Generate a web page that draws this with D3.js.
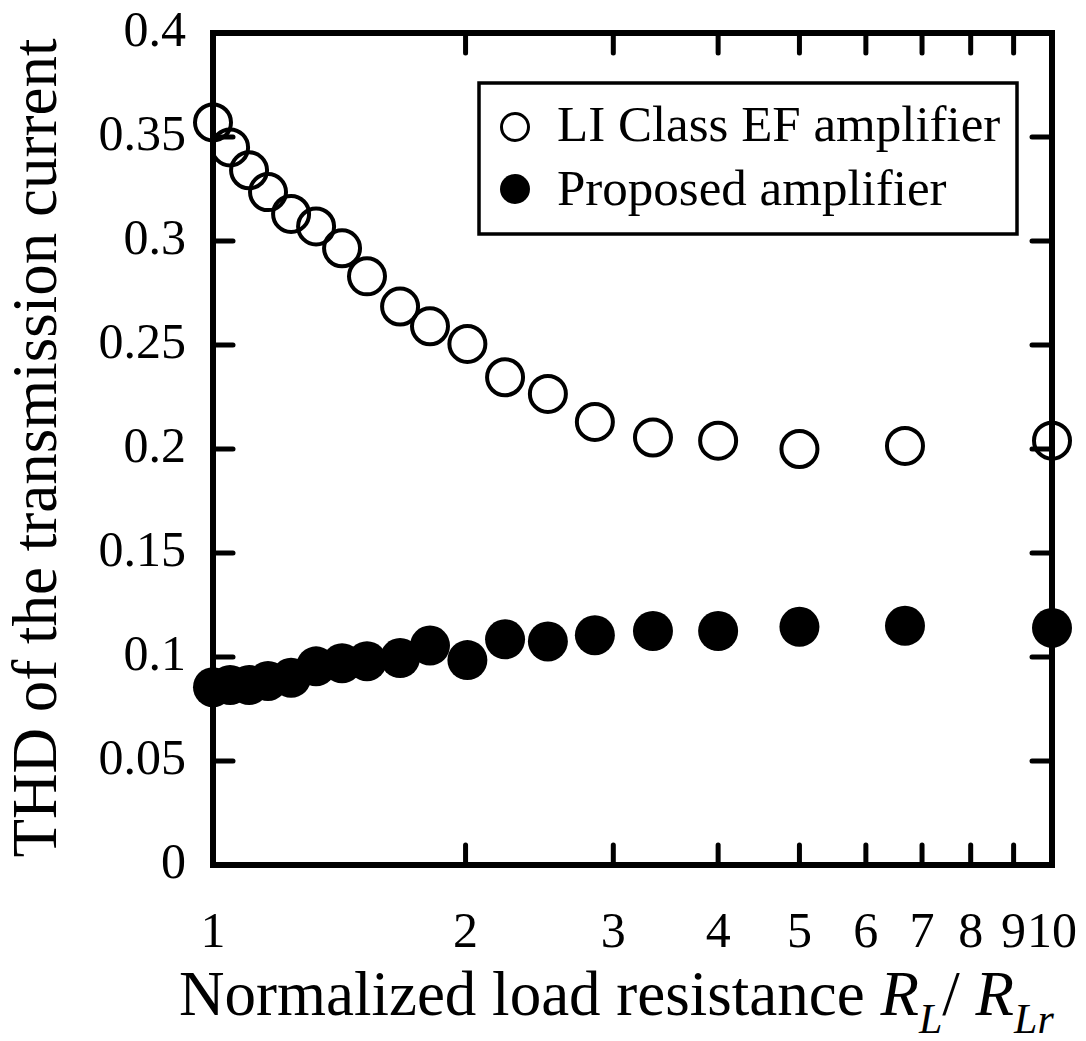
<!DOCTYPE html>
<html>
<head>
<meta charset="utf-8">
<script src="https://cdn.jsdelivr.net/npm/d3@7"></script>
<style>
  html, body { margin: 0; padding: 0; background: #fff; }
  svg { display: block; }
</style>
</head>
<body>
<svg id="chart" width="1086" height="1041"></svg>
<script>
// ---- data ----
const loadRatio = [1.0, 1.048, 1.104, 1.163, 1.239, 1.327, 1.425, 1.526, 1.671, 1.814, 2.01, 2.229, 2.507, 2.852, 3.345, 4.0, 5.0, 6.68, 10.0];
const thdLIClassEF = [0.357, 0.345, 0.334, 0.3235, 0.313, 0.307, 0.2965, 0.283, 0.2685, 0.259, 0.2505, 0.2345, 0.2265, 0.213, 0.2055, 0.204, 0.2, 0.2015, 0.204];
const thdProposed = [0.0855, 0.0865, 0.0865, 0.0885, 0.09, 0.0955, 0.097, 0.098, 0.0995, 0.1055, 0.0985, 0.1085, 0.1075, 0.1105, 0.1125, 0.1125, 0.1145, 0.115, 0.114];
const seriesNames = ["LI Class EF amplifier", "Proposed amplifier"];
const xTickValues = [1, 2, 3, 4, 5, 6, 7, 8, 9, 10];
const xTickLabels = ["1", "2", "3", "4", "5", "6", "7", "8", "9", "10"];
const yTickValues = [0, 0.05, 0.1, 0.15, 0.2, 0.25, 0.3, 0.35, 0.4];
const yTickLabels = ["0", "0.05", "0.1", "0.15", "0.2", "0.25", "0.3", "0.35", "0.4"];

// ---- layout ----
const FONT = "'Liberation Serif', 'Times New Roman', 'DejaVu Serif', serif";
const svg = d3.select("#chart").attr("font-family", FONT);
const L = 213, R = 1052, T = 33, B = 865;
const x = d3.scaleLog().domain([1, 10]).range([L, R]);
const y = d3.scaleLinear().domain([0, 0.4]).range([B, T]);
const tickLen = 20;

// ticks (inward) on all four sides
const gT = svg.append("g");
xTickValues.forEach(v => {
  gT.append("line").attr("x1", x(v)).attr("x2", x(v)).attr("y1", B).attr("y2", B - tickLen);
  gT.append("line").attr("x1", x(v)).attr("x2", x(v)).attr("y1", T).attr("y2", T + tickLen);
});
yTickValues.forEach(v => {
  gT.append("line").attr("x1", L).attr("x2", L + tickLen).attr("y1", y(v)).attr("y2", y(v));
  gT.append("line").attr("x1", R).attr("x2", R - tickLen).attr("y1", y(v)).attr("y2", y(v));
});
gT.selectAll("line").attr("stroke", "#000").attr("stroke-width", 5).attr("stroke-linecap", "round");

// frame
svg.append("rect").attr("x", L).attr("y", T).attr("width", R - L).attr("height", B - T)
  .attr("fill", "none").attr("stroke", "#000").attr("stroke-width", 6);

// tick labels
svg.append("g").selectAll("text").data(xTickValues).join("text")
  .attr("font-family", FONT)
  .attr("x", d => x(d)).attr("y", 947).attr("text-anchor", "middle")
  .attr("font-size", 50).text((d, i) => xTickLabels[i]);
svg.append("g").selectAll("text").data(yTickValues).join("text")
  .attr("font-family", FONT)
  .attr("x", 186).attr("y", d => y(d) + 13).attr("text-anchor", "end")
  .attr("font-size", 50).text((d, i) => yTickLabels[i]);

// axis titles
const xt = svg.append("text").attr("font-family", FONT).attr("x", 179).attr("y", 1015).attr("font-size", 63);
xt.append("tspan").text("Normalized load resistance ");
xt.append("tspan").attr("font-style", "italic").text("R");
xt.append("tspan").attr("font-style", "italic").attr("font-size", 42).attr("dy", 18).text("L");
xt.append("tspan").attr("dy", -18).text("/ ");
xt.append("tspan").attr("font-style", "italic").text("R");
xt.append("tspan").attr("font-style", "italic").attr("font-size", 42).attr("dy", 18).text("Lr");

svg.append("text").attr("font-family", FONT).attr("transform", "translate(56,448) rotate(-90)")
  .attr("text-anchor", "middle").attr("font-size", 63)
  .text("THD of the transmission current");

// data markers
const rr = 18;
svg.append("g").selectAll("circle").data(loadRatio).join("circle")
  .attr("cx", d => x(d)).attr("cy", (d, i) => y(thdLIClassEF[i])).attr("r", rr)
  .attr("fill", "none").attr("stroke", "#000").attr("stroke-width", 4);
svg.append("g").selectAll("circle").data(loadRatio).join("circle")
  .attr("cx", d => x(d)).attr("cy", (d, i) => y(thdProposed[i])).attr("r", rr + 2)
  .attr("fill", "#000");

// legend
const lg = svg.append("g");
lg.append("rect").attr("x", 479).attr("y", 83).attr("width", 1017 - 479).attr("height", 234 - 83)
  .attr("fill", "#fff").attr("stroke", "#000").attr("stroke-width", 3.5);
lg.append("circle").attr("cx", 515).attr("cy", 127).attr("r", 13.5)
  .attr("fill", "none").attr("stroke", "#000").attr("stroke-width", 3);
lg.append("circle").attr("cx", 515).attr("cy", 189).attr("r", 15).attr("fill", "#000");
lg.append("text").attr("font-family", FONT).attr("x", 557).attr("y", 141).attr("font-size", 51).text(seriesNames[0]);
lg.append("text").attr("font-family", FONT).attr("x", 557).attr("y", 205).attr("font-size", 51).text(seriesNames[1]);
</script>
</body>
</html>
